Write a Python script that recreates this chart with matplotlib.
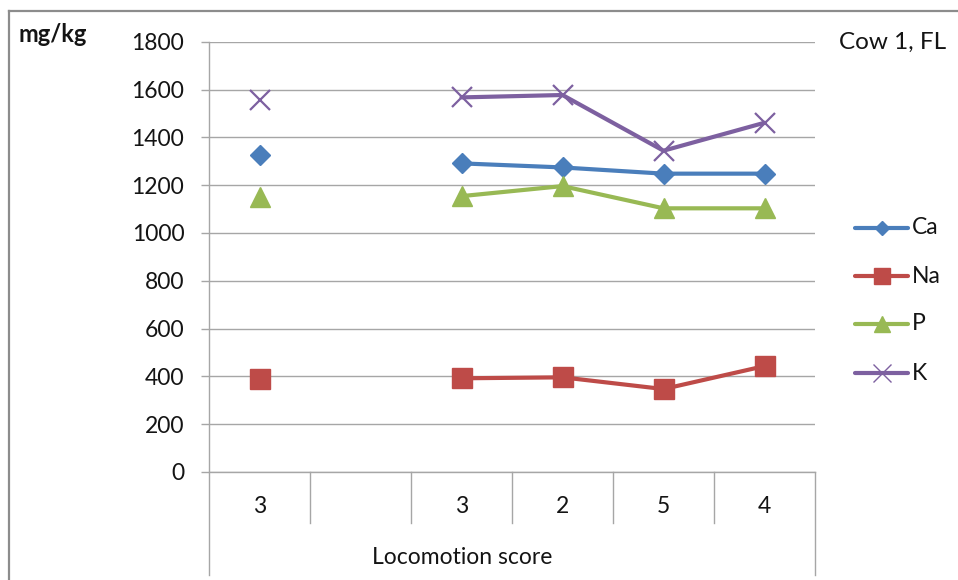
import matplotlib
matplotlib.use("Agg")
import matplotlib.pyplot as plt
import numpy as np
from matplotlib.lines import Line2D
from matplotlib.transforms import blended_transform_factory

plt.rcParams['font.family'] = ['Lato', 'DejaVu Sans']

# Data
categories = ["3", "", "3", "2", "5", "4"]
series_names = ["Ca", "Na", "P", "K"]
ca = [1326, np.nan, 1291, 1274, 1248, 1248]
na = [389, np.nan, 392, 396, 347, 443]
p = [1151, np.nan, 1154, 1196, 1103, 1103]
k = [1556, np.nan, 1567, 1577, 1344, 1461]
y_ticks = [0, 200, 400, 600, 800, 1000, 1200, 1400, 1600, 1800]

colors = ["#4A7EBB", "#BE4B48", "#98B954", "#7D60A0"]
markers = ["D", "s", "^", "x"]
msizes = [10.5, 15, 15, 14]
values = [ca, na, p, k]

W, H = 958, 580
fig = plt.figure(figsize=(W / 100, H / 100), dpi=100)
fig.patch.set_facecolor("white")

x0, x1 = 209, 815
ytop, ybot = 41.7, 472
ax = fig.add_axes([x0 / W, (H - ybot) / H, (x1 - x0) / W, (ybot - ytop) / H])

grid_c = "#A6A6A6"
text_c = "#141414"
xs = np.arange(len(categories))

for vals, c, m, ms in zip(values, colors, markers, msizes):
    v = np.array(vals, dtype=float)
    # connected segment (categories after the gap)
    ax.plot(xs, v, color=c, lw=3.0, solid_capstyle="round", zorder=3)
    kw = dict(color=c, marker=m, ms=ms, ls="none", zorder=4)
    if m == "x":
        kw.update(mew=1.6)
    else:
        kw.update(mec=c)
    ax.plot(xs, v, **kw)

ax.set_xlim(-0.5, len(categories) - 0.5)
ax.set_ylim(0, 1800)
ax.set_yticks(y_ticks)
ax.set_yticklabels([str(t) for t in y_ticks], fontsize=16.5, color=text_c)
ax.tick_params(axis="y", length=5.8, width=1.0, color=grid_c, pad=12)
ax.tick_params(axis="x", length=0, labelbottom=False)
ax.grid(axis="y", color=grid_c, lw=1.0, zorder=0)
ax.set_axisbelow(True)
for s in ["top", "right"]:
    ax.spines[s].set_visible(False)
ax.spines["bottom"].set_color(grid_c)
ax.spines["bottom"].set_linewidth(1.0)
ax.spines["left"].set_visible(False)

# axis line on the left, running down through the category band
ax_h = ybot - ytop
low_frac = -(575 - ybot) / ax_h
sep_frac = -(523 - ybot) / ax_h
trans = blended_transform_factory(ax.transData, ax.transAxes)
ax.plot([-0.5, -0.5], [low_frac, 1], transform=trans,
        color=grid_c, lw=1.0, clip_on=False, zorder=1)
for b in np.arange(0.5, len(categories) - 0.5, 1.0):
    ax.plot([b, b], [sep_frac, 0], transform=trans, color=grid_c, lw=1.0, clip_on=False)
ax.plot([len(categories) - 0.5] * 2, [low_frac, 0], transform=trans, color=grid_c, lw=1.0, clip_on=False)

cat_frac = -(506.5 - ybot) / ax_h
for x, lab in zip(xs, categories):
    ax.text(x, cat_frac, lab, transform=trans, ha="center", va="center", fontsize=16.5, color=text_c)

ax.text((461.7 - x0) / (x1 - x0), -(557 - ybot) / ax_h, "Locomotion score",
        transform=ax.transAxes, ha="center", va="center", fontsize=16.5, color=text_c)

# chart titles
fig.text(18 / W, 1 - 35 / H, "mg/kg", fontsize=17, fontweight="bold", color=text_c, ha="left", va="center")
fig.text(839 / W, 1 - 42 / H, "Cow 1, FL", fontsize=17.5, color=text_c, ha="left", va="center")

# outer chart border
fig.add_artist(Line2D([9 / W, 9 / W], [0, 1 - 11 / H], color="#8C8C8C", lw=1.6))
fig.add_artist(Line2D([9 / W, 1], [1 - 11 / H, 1 - 11 / H], color="#8C8C8C", lw=1.6))

# legend
leg_y = [228, 276, 324, 373]
leg_ms = [7.6, 12, 12, 13]
for name, c, m, ms, ly in zip(series_names, colors, markers, leg_ms, leg_y):
    yf = 1 - ly / H
    fig.add_artist(Line2D([855 / W, 908 / W], [yf, yf], color=c, lw=3.0, solid_capstyle="round"))
    mk = dict(color=c, marker=m, ms=ms, ls="none")
    if m == "x":
        mk.update(mew=1.0)
    fig.add_artist(Line2D([881.5 / W], [yf], **mk))
    fig.text(912 / W, yf, name, fontsize=16.5, color=text_c, ha="left", va="center")

fig.savefig("out.png", dpi=100, facecolor="white")
